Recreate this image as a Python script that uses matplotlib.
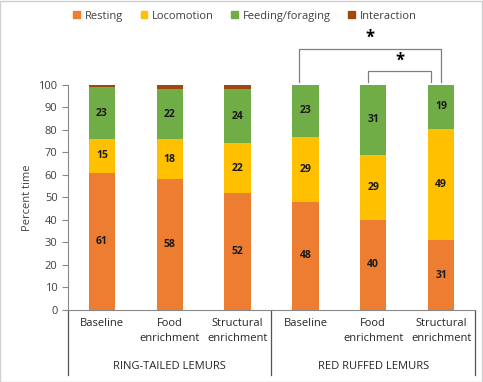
import matplotlib.pyplot as plt
from matplotlib.patches import Patch, Rectangle
import numpy as np

plt.rcParams['font.family'] = ['Open Sans', 'DejaVu Sans']

categories = ['Baseline', 'Food\nenrichment', 'Structural\nenrichment',
              'Baseline', 'Food\nenrichment', 'Structural\nenrichment']
groups = ['RING-TAILED LEMURS', 'RED RUFFED LEMURS']
series = ['Resting', 'Locomotion', 'Feeding/foraging', 'Interaction']
resting = [61, 58, 52, 48, 40, 31]
locomotion = [15, 18, 22, 29, 29, 49.5]
feeding = [23, 22, 24, 23, 31, 19.5]
interaction = [1, 2, 2, 0.7, 0, 0]
colors = ['#ED7D31', '#FFC000', '#70AD47', '#9E480E']

fig = plt.figure(figsize=(4.83, 3.82), dpi=100)
ax = fig.add_axes([0.1408, 0.1885, 0.8426, 0.589])

x = np.arange(len(categories))
bottom = np.zeros(len(categories))
for name, vals, c in zip(series, [resting, locomotion, feeding, interaction], colors):
    vals = np.array(vals, dtype=float)
    ax.bar(x, vals, 0.39, bottom=bottom, color=c, label=name, zorder=2)
    if name != 'Interaction':
        for xi, b, v in zip(x, bottom, vals):
            ax.text(xi, b + v / 2, '%d' % v, ha='center', va='center',
                    fontsize=7.5, fontweight='bold', color='#1a1a1a')
    bottom += vals

ax.set_xlim(-0.5, 5.5)
ax.set_ylim(0, 100)
ax.set_yticks(range(0, 101, 10))
ax.tick_params(axis='y', labelsize=8, colors='#404040', length=4, color='#888888')
ax.set_xticks([])
for s in ['top', 'right']:
    ax.spines[s].set_visible(False)
ax.spines['left'].set_color('#888888')
ax.spines['bottom'].set_color('#888888')
ax.set_ylabel('Percent time', fontsize=8, color='#404040')

# category labels and separators
for xi, lab in zip(x, categories):
    ax.text(xi, -3.6, lab, ha='center', va='top', fontsize=8, color='#262626',
            linespacing=1.45, clip_on=False)
for gx, g in zip([1, 4], groups):
    ax.text(gx, -25.3, g, ha='center', va='center', fontsize=8, color='#262626',
            clip_on=False)
for sx in [-0.5, 2.5, 5.5]:
    ax.plot([sx, sx], [0, -29], color='#555555', lw=0.9, clip_on=False)

# significance brackets
ax.plot([3 - 0.1, 3 - 0.1, 5, 5], [101.3, 116, 116, 101.3], color='#7f7f7f', lw=0.9, clip_on=False)
ax.text(3.95, 121, '*', ha='center', va='center', fontsize=12, fontweight='bold', clip_on=False)
ax.plot([4 - 0.07, 4 - 0.07, 4.85, 4.85], [101.3, 106.2, 106.2, 101.3], color='#7f7f7f', lw=0.9, clip_on=False)
ax.text(4.4, 111, '*', ha='center', va='center', fontsize=12, fontweight='bold', clip_on=False)

handles = [Patch(color=c, label=n) for n, c in zip(series, colors)]
fig.legend(handles=handles, loc='center', bbox_to_anchor=(0.507, 0.958), ncol=4,
           frameon=False, fontsize=8, handlelength=0.6, handleheight=0.6,
           handletextpad=0.4, columnspacing=1.6, labelcolor='#404040')

fig.patches.append(Rectangle((0.001, 0.001), 0.997, 0.997, transform=fig.transFigure,
                             fill=False, edgecolor='#d0d0d0', lw=1))

fig.savefig('out.png', dpi=100)
